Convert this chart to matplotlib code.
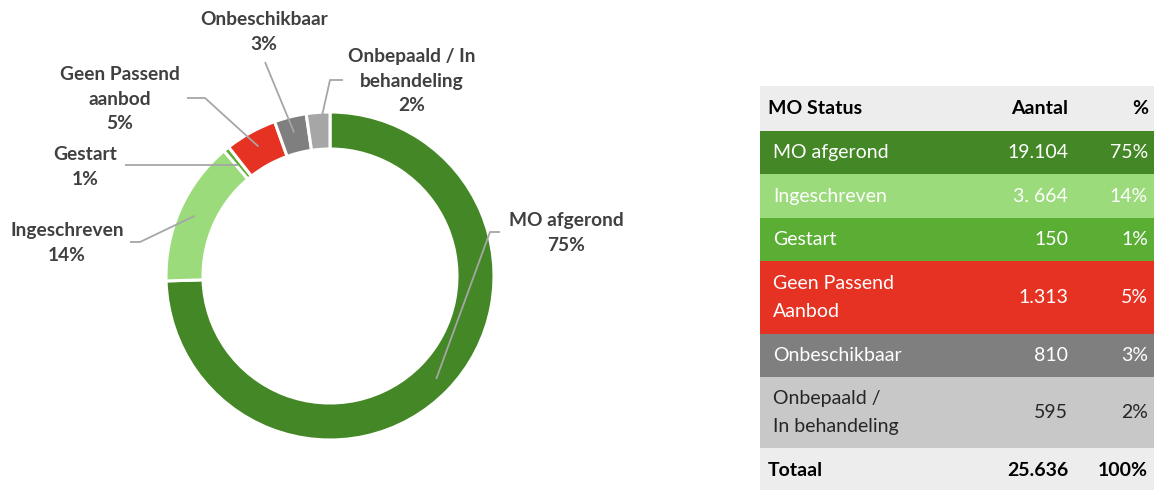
import numpy as np
import matplotlib
matplotlib.use("Agg")
import matplotlib.pyplot as plt

# ---- data ----
categories = ["MO afgerond", "Ingeschreven", "Gestart", "Geen Passend Aanbod",
              "Onbeschikbaar", "Onbepaald / In behandeling"]
pie_labels = ["MO afgerond", "Ingeschreven", "Gestart", "Geen Passend\naanbod",
              "Onbeschikbaar", "Onbepaald / In\nbehandeling"]
table_labels = ["MO afgerond", "Ingeschreven", "Gestart", "Geen Passend\nAanbod",
                "Onbeschikbaar", "Onbepaald /\nIn behandeling"]
counts = [19104, 3664, 150, 1313, 810, 595]
count_text = ["19.104", "3. 664", "150", "1.313", "810", "595"]
pct_text = ["75%", "14%", "1%", "5%", "3%", "2%"]
total_text = "25.636"
total_pct = "100%"
pie_colors = ["#448726", "#9BDB7B", "#5AAE33", "#E53222", "#7F7F7F", "#A6A6A6"]
row_colors = ["#448726", "#9BDB7B", "#5AAE33", "#E53222", "#7F7F7F", "#C8C8C8"]
row_text_colors = ["white", "white", "white", "white", "white", "#262626"]

W, H = 1154, 490
fig = plt.figure(figsize=(W / 100, H / 100), dpi=100)
plt.rcParams['font.family'] = ['Lato', 'DejaVu Sans']

# ---- donut ----
cx, cy, R = 330, 276, 164
half = 175
ax_pie = fig.add_axes([(cx - half) / W, (H - cy - half) / H, 2 * half / W, 2 * half / H])
wedges, _ = ax_pie.pie(counts, colors=pie_colors, startangle=90, counterclock=False,
                       radius=R / half,
                       wedgeprops=dict(width=37 / half, edgecolor="white", linewidth=2.2))
ax_pie.set_xlim(-1, 1)
ax_pie.set_ylim(-1, 1)
ax_pie.set_aspect("equal")
ax_pie.axis("off")

# ---- overlay in pixel coordinates ----
ov = fig.add_axes([0, 0, 1, 1])
ov.set_xlim(0, W)
ov.set_ylim(H, 0)
ov.axis("off")
ov.patch.set_alpha(0)

label_color = "#404040"
line_color = "#A6A6A6"
# label text centers and leader line path (elbow, end)
label_pos = [(566, 233), (67, 243), (85, 167), (120, 99), (264, 32), (412, 81)]
elbows = [[(490, 232), (500, 232)],
          [(140, 242), (130, 242)],
          [(125, 165)],
          [(205, 98), (187, 98)],
          [(265, 62)],
          [(330, 80), (343, 80)]]
r_start = 148
for w, lab, pct, pos, elb in zip(wedges, pie_labels, pct_text, label_pos, elbows):
    mid = np.deg2rad((w.theta1 + w.theta2) / 2)
    sx = cx + r_start * np.cos(mid)
    sy = cy - r_start * np.sin(mid)
    if lab == "Gestart":
        sy = elb[0][1]
        sx = cx - np.sqrt((R - 20) ** 2 - (cy - sy) ** 2)
    xs = [sx] + [p[0] for p in elb]
    ys = [sy] + [p[1] for p in elb]
    ov.plot(xs, ys, color=line_color, lw=1.3, solid_capstyle="butt")
    ov.text(pos[0], pos[1], lab + "\n" + pct, ha="center", va="center",
            fontsize=13.8, fontweight="bold", color=label_color, linespacing=1.55)

# ---- table ----
tx0, tx1 = 760, W
x_name, x_cnt, x_pct = 773, 1068, 1148
row_bounds = [(131, 174), (174, 218), (218, 261), (261, 334), (334, 377), (377, 448)]
fs = 14
# header
ov.add_patch(plt.Rectangle((tx0, 86), tx1 - tx0, 45, color="#EDEDED", lw=0))
hy = 108
ov.text(768, hy, "MO Status", ha="left", va="center", fontsize=fs, fontweight="bold", color="black")
ov.text(x_cnt, hy, "Aantal", ha="right", va="center", fontsize=fs, fontweight="bold", color="black")
ov.text(x_pct, hy, "%", ha="right", va="center", fontsize=fs, fontweight="bold", color="black")
for (y0, y1), lab, c, p, col, tcol in zip(row_bounds, table_labels, count_text, pct_text,
                                           row_colors, row_text_colors):
    ov.add_patch(plt.Rectangle((tx0, y0), tx1 - tx0, y1 - y0, color=col, lw=0))
    ym = (y0 + y1) / 2
    ov.text(x_name, ym, lab, ha="left", va="center", fontsize=fs, color=tcol, linespacing=1.72)
    ov.text(x_cnt, ym, c, ha="right", va="center", fontsize=fs, color=tcol)
    ov.text(x_pct, ym, p, ha="right", va="center", fontsize=fs, color=tcol)
# total
ov.add_patch(plt.Rectangle((tx0, 448), tx1 - tx0, 42, color="#EDEDED", lw=0))
ty = 470
ov.text(768, ty, "Totaal", ha="left", va="center", fontsize=fs, fontweight="bold", color="black")
ov.text(x_cnt, ty, total_text, ha="right", va="center", fontsize=fs, fontweight="bold", color="black")
ov.text(x_pct, ty, total_pct, ha="right", va="center", fontsize=fs, fontweight="bold", color="black")

fig.savefig("out.png", dpi=100)
